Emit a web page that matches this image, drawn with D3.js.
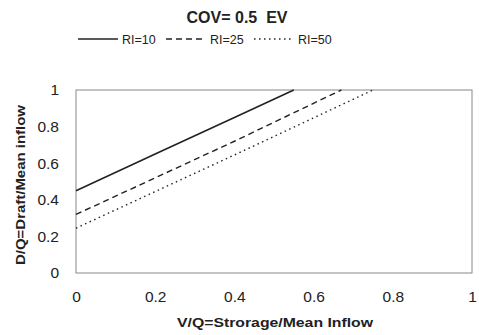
<!DOCTYPE html>
<html lang="en">
<head>
  <meta charset="UTF-8">
  <title>COV = 0.5 EV</title>
  <script src="https://d3js.org/d3.v7.min.js"></script>
  <style>
    body { margin: 0; background: white; }
    text { font-family: "Liberation Sans", Arial, sans-serif; fill: #222; }
  </style>
</head>
<body>
<svg id="chart" width="479" height="335"></svg>
<script>
  // storage ratio V/Q (x) vs draft ratio D/Q (y), one line per RI
  const seriesNames = ["RI=10", "RI=25", "RI=50"];
  const ri10 = [[0, 0.45], [0.2, 0.65], [0.4, 0.85], [0.55, 1]];
  const ri25 = [[0, 0.32], [0.2, 0.52], [0.4, 0.72], [0.67, 1]];
  const ri50 = [[0, 0.245], [0.2, 0.445], [0.4, 0.645], [0.75, 1]];
  const xTicks = [0, 0.2, 0.4, 0.6, 0.8, 1];
  const yTicks = [0, 0.2, 0.4, 0.6, 0.8, 1];

  const dashes = [null, "6,4", "1.5,3.5"];
  const allSeries = [ri10, ri25, ri50];

  let svg = d3.select("#chart");
  let m = {left: 76, right: 472, top: 90, bottom: 273};

  let x = d3.scaleLinear().domain([0, 1]).range([m.left, m.right]);
  let y = d3.scaleLinear().domain([0, 1]).range([m.bottom, m.top]);

  // title (keep the double space)
  svg.append("text")
    .attr("x", 237).attr("y", 23)
    .attr("text-anchor", "middle")
    .style("white-space", "pre")
    .style("font-size", "16px").style("font-weight", "bold")
    .text("COV= 0.5  EV");

  // legend
  let legend = svg.append("g").attr("transform", "translate(78,39)");
  seriesNames.forEach((name, i) => {
    let g = legend.append("g").attr("transform", `translate(${i * 88},0)`);
    g.append("line")
      .attr("x1", 0).attr("x2", 40).attr("y1", 0).attr("y2", 0)
      .attr("stroke", "#222").attr("stroke-width", 1.3)
      .attr("stroke-dasharray", dashes[i]);
    g.append("text")
      .attr("x", 44).attr("y", 4.5)
      .style("font-size", "12.5px")
      .text(name);
  });

  // plot frame
  svg.append("rect")
    .attr("x", m.left).attr("y", m.top)
    .attr("width", m.right - m.left).attr("height", m.bottom - m.top)
    .attr("fill", "none").attr("stroke", "#888").attr("stroke-width", 1);

  // axes (labels only, no tick marks)
  let xAxis = svg.append("g")
    .attr("transform", `translate(0,${m.bottom})`)
    .call(d3.axisBottom(x).tickValues(xTicks).tickSize(0).tickPadding(18).tickFormat(d3.format("~g")));
  let yAxis = svg.append("g")
    .attr("transform", `translate(${m.left},0)`)
    .call(d3.axisLeft(y).tickValues(yTicks).tickSize(0).tickPadding(17).tickFormat(d3.format("~g")));
  [xAxis, yAxis].forEach(a => {
    a.select(".domain").remove();
    a.selectAll("text").style("font-size", "15.5px").attr("fill", "#222");
  });

  // axis titles
  svg.append("text")
    .attr("x", 275).attr("y", 327)
    .attr("text-anchor", "middle")
    .attr("textLength", 196).attr("lengthAdjust", "spacingAndGlyphs")
    .style("font-size", "12.5px").style("font-weight", "bold")
    .text("V/Q=Strorage/Mean Inflow");
  svg.append("text")
    .attr("transform", "translate(25,185) rotate(-90)")
    .attr("text-anchor", "middle")
    .attr("textLength", 160).attr("lengthAdjust", "spacingAndGlyphs")
    .style("font-size", "12.5px").style("font-weight", "bold")
    .text("D/Q=Draft/Mean inflow");

  // lines
  let line = d3.line().x(d => x(d[0])).y(d => y(d[1]));
  allSeries.forEach((s, i) => {
    svg.append("path")
      .datum(s)
      .attr("d", line)
      .attr("fill", "none")
      .attr("stroke", "#222")
      .attr("stroke-width", i == 0 ? 1.6 : 1.4)
      .attr("stroke-dasharray", dashes[i]);
  });
</script>
</body>
</html>
